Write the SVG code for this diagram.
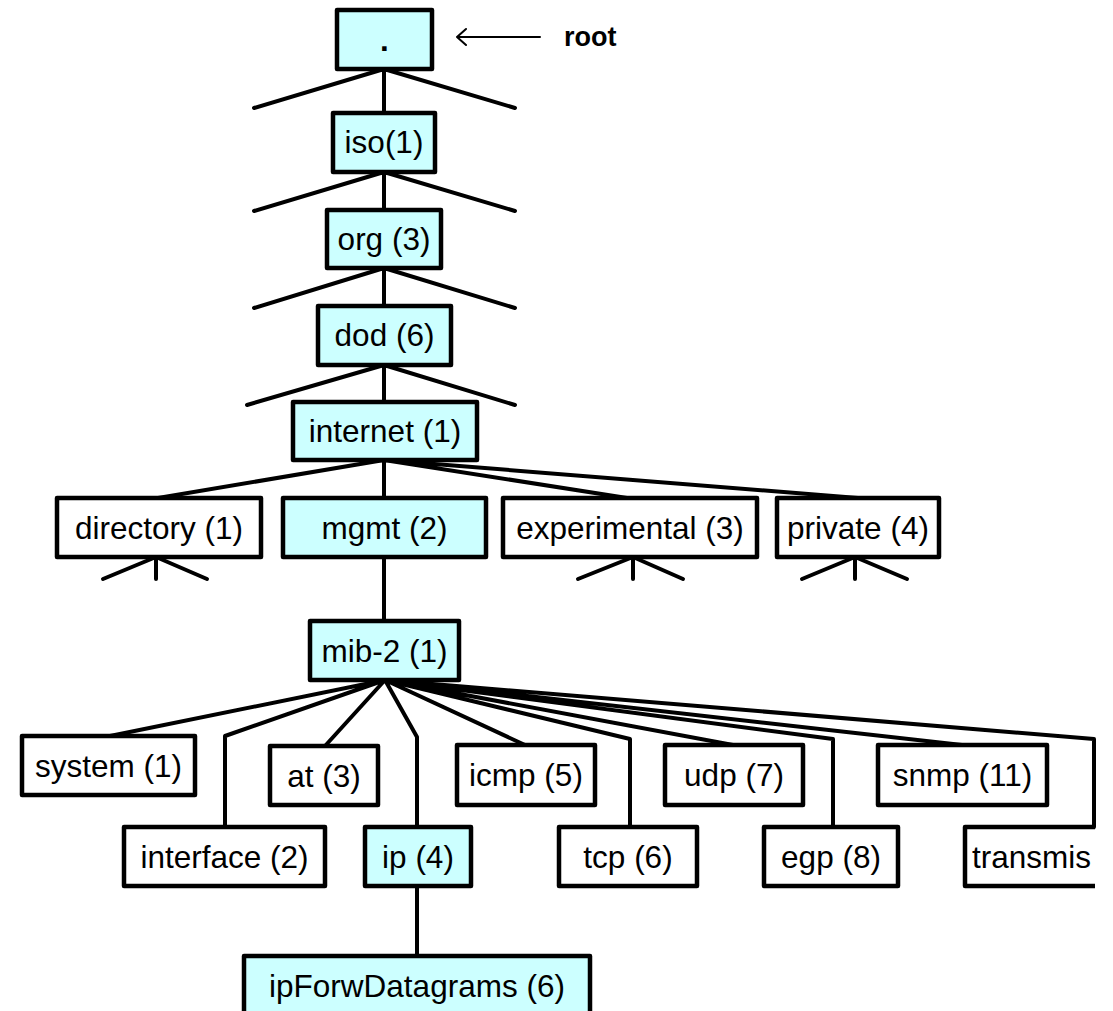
<svg xmlns="http://www.w3.org/2000/svg" width="1113" height="1011" viewBox="0 0 1113 1011">
<style>
.n rect,.n path{stroke:#000;stroke-width:4.5;stroke-linejoin:round}
.c{fill:#ccffff}
.w{fill:#fff}
.n text{font-family:"Liberation Sans",Arial,sans-serif;font-size:31.5px;fill:#000;text-anchor:middle}
#edges path{fill:none;stroke:#000;stroke-width:4;stroke-linecap:round;stroke-linejoin:round}
</style>
<rect width="1113" height="1011" fill="#fff"/>
<g id="edges">
<path d="M384,69 L254,108 M384,69 L515,108 M384,69 V113"/>
<path d="M384,172 L254,211 M384,172 L515,211 M384,172 V210"/>
<path d="M384,268 L254,308 M384,268 L515,308 M384,268 V306"/>
<path d="M384,365 L247,405 M384,365 L515,405 M384,365 V402"/>
<path d="M384,460 L158,498 M384,460 V498 M384,460 L627,498 M384,460 L858,498"/>
<path d="M156,557 V579 M156,557 L103,579 M156,557 L207,579"/>
<path d="M633,557 V579 M633,557 L578,579 M633,557 L683,579"/>
<path d="M855,557 V579 M855,557 L802,579 M855,557 L907,579"/>
<path d="M384,557 V621"/>
<path d="M385,680 L110,736 M385,680 L225,736 V827 M385,680 L325,746 M385,680 L417,737 V827 M385,680 L525,745 M385,680 L630,739 V827 M385,680 L733,745 M385,680 L833,739 V827 M385,680 L962,745 M385,680 L1094,739 V827"/>
<path d="M417,886 V956"/>
<path d="M457,37 H540 M466,29 L457,37 L466,45" style="stroke-width:2"/>
</g>
<text x="564" y="46" style="font-family:'Liberation Sans',Arial,sans-serif;font-size:27px;font-weight:bold">root</text>
<g id="root" class="n"><rect class="c" x="337" y="10" width="95" height="59"/><text x="384.5" y="51" style="font-weight:bold">.</text></g>
<g id="iso" class="n"><rect class="c" x="333" y="113" width="102" height="59"/><text x="384" y="153">iso(1)</text></g>
<g id="org" class="n"><rect class="c" x="327" y="210" width="114" height="58"/><text x="384" y="250">org (3)</text></g>
<g id="dod" class="n"><rect class="c" x="318" y="306" width="133" height="59"/><text x="384.5" y="346">dod (6)</text></g>
<g id="internet" class="n"><rect class="c" x="293" y="402" width="184" height="58"/><text x="385" y="442">internet (1)</text></g>
<g id="directory" class="n"><rect class="w" x="57" y="498" width="204" height="59"/><text x="159" y="539">directory (1)</text></g>
<g id="mgmt" class="n"><rect class="c" x="283" y="498" width="203" height="59"/><text x="384.5" y="539">mgmt (2)</text></g>
<g id="experimental" class="n"><rect class="w" x="503" y="498" width="254" height="59"/><text x="630" y="539">experimental (3)</text></g>
<g id="private" class="n"><rect class="w" x="777" y="498" width="162" height="59"/><text x="858" y="539">private (4)</text></g>
<g id="mib2" class="n"><rect class="c" x="310" y="621" width="149" height="59"/><text x="384.5" y="662">mib-2 (1)</text></g>
<g id="system" class="n"><rect class="w" x="22" y="736" width="173" height="59"/><text x="108.5" y="777">system (1)</text></g>
<g id="at" class="n"><rect class="w" x="270" y="746" width="108" height="59"/><text x="324" y="787">at (3)</text></g>
<g id="icmp" class="n"><rect class="w" x="457" y="745" width="138" height="60"/><text x="526" y="786">icmp (5)</text></g>
<g id="udp" class="n"><rect class="w" x="665" y="745" width="138" height="60"/><text x="734" y="786">udp (7)</text></g>
<g id="snmp" class="n"><rect class="w" x="878" y="745" width="169" height="60"/><text x="962.5" y="786">snmp (11)</text></g>
<g id="interface" class="n"><rect class="w" x="124" y="827" width="201" height="59"/><text x="224.5" y="868">interface (2)</text></g>
<g id="ip" class="n"><rect class="c" x="365" y="827" width="106" height="59"/><text x="418" y="868">ip (4)</text></g>
<g id="tcp" class="n"><rect class="w" x="559" y="827" width="138" height="59"/><text x="628" y="868">tcp (6)</text></g>
<g id="egp" class="n"><rect class="w" x="764" y="827" width="134" height="59"/><text x="831" y="868">egp (8)</text></g>
<g id="transmission" class="n"><path class="w" d="M1095,827 H965 V886 H1095"/><text x="972" y="868" style="text-anchor:start">transmis</text></g>
<g id="ipForwDatagrams" class="n"><rect class="c" x="244" y="956" width="346" height="70"/><text x="417" y="997">ipForwDatagrams (6)</text></g>
</svg>
